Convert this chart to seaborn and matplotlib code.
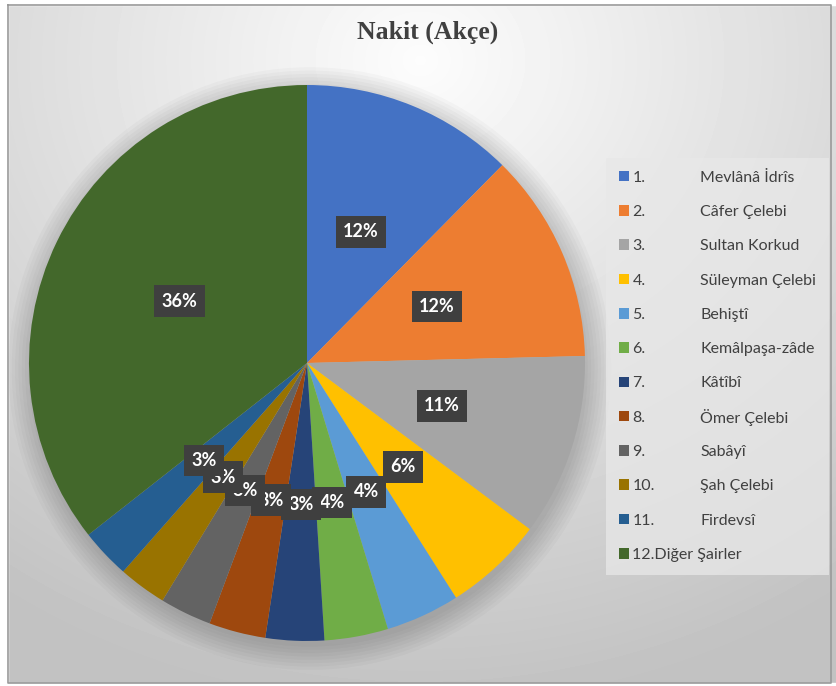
import numpy as np
import matplotlib.pyplot as plt
import seaborn as sns
from matplotlib.patches import Rectangle, Circle

# data
numbers = ["1.", "2.", "3.", "4.", "5.", "6.", "7.", "8.", "9.", "10.", "11.", "12."]
names = ["Mevlânâ İdrîs", "Câfer Çelebi", "Sultan Korkud", "Süleyman Çelebi", "Behiştî",
         "Kemâlpaşa-zâde", "Kâtîbî", "Ömer Çelebi", "Sabâyî", "Şah Çelebi", "Firdevsî",
         "Diğer Şairler"]
shares = [12.4, 12.2, 10.6, 5.8, 4.3, 3.7, 3.4, 3.3, 3.0, 2.8, 2.9, 35.6]
colors = sns.color_palette(["#4472C4", "#ED7D31", "#A5A5A5", "#FFC000", "#5B9BD5", "#70AD47",
                            "#264478", "#9E480E", "#636363", "#997300", "#255E91", "#43682B"])

sns.set_theme(style="white")
plt.rcParams['font.family'] = ['Lato', 'DejaVu Sans']

W, H = 837, 686
fig = plt.figure(figsize=(W / 100, H / 100), dpi=100)

# background gradient + frame
bg = fig.add_axes([0, 0, 1, 1])
yy, xx = np.mgrid[0:H, 0:W]
d = np.sqrt(((xx - 420) / 700.0) ** 2 + ((yy - 60) / 620.0) ** 2)
g = np.clip(0.99 - 0.22 * d, 0.76, 1.0)
bg.imshow(g, cmap="gray", vmin=0, vmax=1, extent=[0, W, H, 0], aspect="auto")
bg.add_patch(Rectangle((0, 0), 8, H, color="white"))
bg.add_patch(Rectangle((0, 0), W, 5, color="white"))
bg.add_patch(Rectangle((0, 683), W, 3, color="white"))
bg.plot([8, 8, 831, 831, 8], [5, 683, 683, 5, 5], color="#9a9a9a", lw=1.2)
bg.set_xlim(0, W)
bg.set_ylim(H, 0)
bg.axis("off")

# pie
cx, cy, R = 307, 363, 278
ax = fig.add_axes([(cx - R) / W, (H - cy - R) / H, 2 * R / W, 2 * R / H])
ax.set_facecolor("none")
for k in range(8):
    ax.add_patch(Circle((0.01, -0.02), 1.0 + 0.012 * k, color="black", alpha=0.025, lw=0,
                        zorder=0, clip_on=False))
wedges, _, autotexts = ax.pie(shares, colors=colors, startangle=90, counterclock=False,
                              autopct="%1.0f%%", pctdistance=0.51, radius=1.0,
                              wedgeprops=dict(linewidth=0, clip_on=False))
for t in autotexts:
    t.set_color("white")
    t.set_fontsize(13)
    t.set_fontweight("bold")
    t.set_bbox(dict(boxstyle="square,pad=0.4", fc="#3f3f3f", ec="none"))
ax.set_xlim(-1, 1)
ax.set_ylim(-1, 1)
ax.axis("off")

fig.text(428 / W, 1 - 32 / H, "Nakit (Akçe)", ha="center", va="center",
         fontsize=18.5, fontweight="bold", family="Liberation Serif", color="#404040")

# legend
labels = numbers[:-1] + [numbers[-1] + names[-1]]
leg = fig.legend(wedges, labels, loc="upper left", mode="expand",
                 bbox_to_anchor=(606 / W, 1 - 572 / H, 223 / W, 414 / H),
                 frameon=True, fontsize=11.5, labelspacing=1.27, handlelength=0.65,
                 handleheight=0.65, handletextpad=0.2, borderpad=0.8, borderaxespad=0)
leg.get_frame().set_facecolor("#e8e8e8")
leg.get_frame().set_edgecolor("none")
leg.get_frame().set_alpha(0.75)
leg.get_frame().set_boxstyle("square", pad=0)
for t in leg.get_texts():
    t.set_color("#404040")

fig.canvas.draw()
inv = fig.transFigure.inverted()
for t, name in zip(leg.get_texts()[:-1], names[:-1]):
    bb = t.get_window_extent()
    y = inv.transform((0, (bb.y0 + bb.y1) / 2))[1]
    fig.text(700 / W, y, name, ha="left", va="center", fontsize=11.5, color="#404040", zorder=10)

fig.savefig("out.png", dpi=100)
